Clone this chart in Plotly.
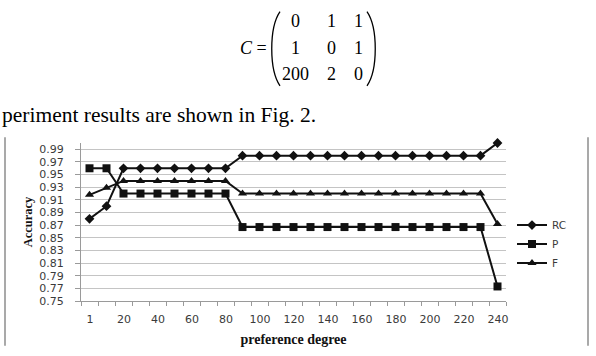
import plotly.graph_objects as go

# ---- data ----
categories = ["1", "10", "20", "30", "40", "50", "60", "70", "80", "90", "100", "110", "120",
              "130", "140", "150", "160", "170", "180", "190", "200", "210", "220", "230", "240"]
rc_values = [0.88, 0.90, 0.96, 0.96, 0.96, 0.96, 0.96, 0.96, 0.96, 0.98, 0.98, 0.98, 0.98,
             0.98, 0.98, 0.98, 0.98, 0.98, 0.98, 0.98, 0.98, 0.98, 0.98, 0.98, 1.00]
p_values = [0.96, 0.96, 0.92, 0.92, 0.92, 0.92, 0.92, 0.92, 0.92, 0.867, 0.867, 0.867, 0.867,
            0.867, 0.867, 0.867, 0.867, 0.867, 0.867, 0.867, 0.867, 0.867, 0.867, 0.867, 0.773]
f_values = [0.918, 0.929, 0.94, 0.94, 0.94, 0.94, 0.94, 0.94, 0.94, 0.92, 0.92, 0.92, 0.92,
            0.92, 0.92, 0.92, 0.92, 0.92, 0.92, 0.92, 0.92, 0.92, 0.92, 0.92, 0.872]
y_tick_labels = ["0.75", "0.77", "0.79", "0.81", "0.83", "0.85", "0.87", "0.89", "0.91",
                 "0.93", "0.95", "0.97", "0.99"]
matrix_rows = [["0", "1", "1"], ["1", "0", "1"], ["200", "2", "0"]]
body_text = "periment results are shown in Fig. 2."

# ---- layout geometry (pixels) ----
W, H = 596, 356
L, R, T, B = 81, 506, 143, 309


def px(x):
    return (x - L) / (R - L)


def py(y):
    return (B - y) / (B - T)


n = len(categories)
x_idx = list(range(n))
x_range = [-0.5, n - 0.5]
# tick marks sit on category boundaries; every other boundary carries the
# label of the category to its right (shifted to the category centre)
boundaries = [i - 0.5 for i in range(n + 1)]
boundary_text = [categories[i] if (i < n and i % 2 == 0) else "" for i in range(n + 1)]
half_cat_px = int((R - L) / n / 2 + 0.5)

tick_font = dict(family="DejaVu Sans", size=11, color="#3a3a3a")
serif = "Liberation Serif"

fig = go.Figure()
series = [("RC", rc_values, "diamond", 7.5),
          ("P", p_values, "square", 8),
          ("F", f_values, "triangle-up", 8)]
for name, vals, sym, size in series:
    fig.add_trace(go.Scatter(
        x=x_idx, y=vals, name=name, mode="lines+markers",
        line=dict(color="#111111", width=2),
        marker=dict(symbol=sym, size=size, color="#111111"),
        cliponaxis=False))

annotations = []
# matrix equation
col_x = [295, 331, 358]
row_y = [15, 43, 71]
for r, row in enumerate(matrix_rows):
    for c, val in enumerate(row):
        annotations.append(dict(x=px(col_x[c]), y=py(row_y[r]), xref="paper", yref="paper",
                                text=val, showarrow=False, xanchor="center", yanchor="middle",
                                font=dict(family=serif, size=18, color="#000")))
annotations.append(dict(x=px(269), y=py(43), xref="paper", yref="paper",
                        text="<i>C</i> =", showarrow=False, xanchor="right", yanchor="middle",
                        font=dict(family=serif, size=18, color="#000")))
annotations.append(dict(x=px(0), y=py(114), xref="paper", yref="paper",
                        text=body_text, showarrow=False, xanchor="left", yanchor="middle",
                        font=dict(family=serif, size=21.5, color="#000")))

shapes = []
# parentheses of the matrix
shapes.append(dict(type="path", xref="paper", yref="paper",
                   path=f"M {px(280)} {py(5)} C {px(269)} {py(22)} {px(269)} {py(66)} {px(280)} {py(83)}",
                   line=dict(color="#000", width=1.3)))
shapes.append(dict(type="path", xref="paper", yref="paper",
                   path=f"M {px(367)} {py(5)} C {px(378)} {py(22)} {px(378)} {py(66)} {px(367)} {py(83)}",
                   line=dict(color="#000", width=1.3)))
# chart frame side lines
for xf in (5, 588):
    shapes.append(dict(type="line", xref="paper", yref="paper",
                       x0=px(xf), x1=px(xf), y0=py(137), y1=py(356),
                       line=dict(color="#8c8c8c", width=1.5)))

fig.update_layout(
    width=W, height=H,
    margin=dict(l=L, r=W - R, t=T, b=H - B),
    paper_bgcolor="white", plot_bgcolor="white",
    showlegend=True,
    legend=dict(x=px(512), y=py(214), xanchor="left", yanchor="top",
                font=dict(family="DejaVu Sans", size=10.5, color="#3a3a3a"),
                itemwidth=30, bgcolor="rgba(0,0,0,0)", tracegroupgap=0),
    annotations=annotations,
    shapes=shapes,
)

fig.update_xaxes(
    range=x_range,
    tickmode="array", tickvals=boundaries, ticktext=boundary_text,
    ticks="outside", ticklen=4, tickcolor="#9a9a9a", tickwidth=1,
    ticklabelshift=half_cat_px, ticklabelstandoff=4,
    showgrid=False, zeroline=False,
    showline=True, linecolor="#9a9a9a", linewidth=1,
    tickfont=tick_font,
    title=dict(text="<b>preference degree</b>", standoff=8,
               font=dict(family=serif, size=14, color="#111")),
)
fig.update_yaxes(
    range=[0.75, 1.0],
    tickmode="array", tickvals=[float(t) for t in y_tick_labels], ticktext=y_tick_labels,
    ticks="outside", ticklen=5, tickcolor="#9a9a9a",
    showgrid=True, gridcolor="#c4c4c4", gridwidth=1, zeroline=False,
    showline=True, linecolor="#9a9a9a", linewidth=1,
    tickfont=tick_font, ticklabelstandoff=9,
    title=dict(text="<b>Accuracy</b>", standoff=3,
               font=dict(family=serif, size=12.5, color="#111")),
)

fig.write_html("out.html")
